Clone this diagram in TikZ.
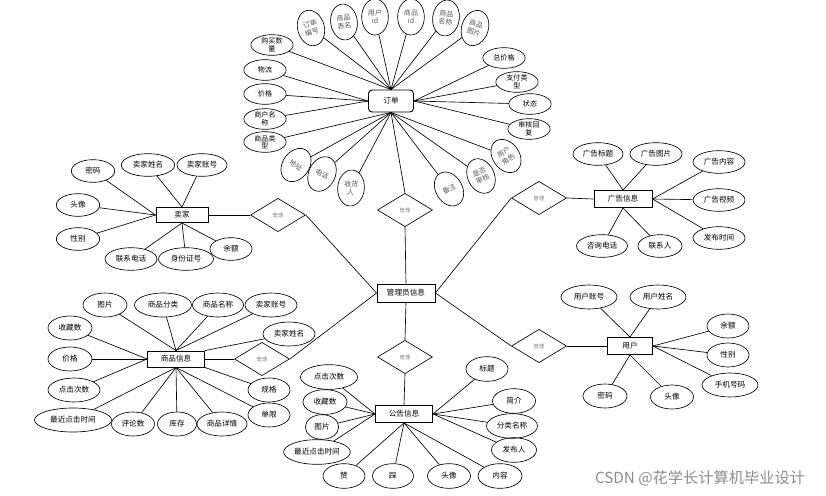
\documentclass[tikz,border=0pt]{standalone}
\usepackage{fontspec}
\setmainfont{Noto Sans CJK SC}
\usetikzlibrary{shapes.geometric}

\begin{document}
\begin{tikzpicture}[x=0.03cm, y=-0.03cm, line width=0.55pt,
  font=\fontsize{6.5}{7}\selectfont,
  attr/.style={draw, ellipse, minimum width=#1, minimum height=0.68cm, inner sep=0pt, align=center},
  attr/.default=1.3cm,
  tilt/.style={draw, ellipse, minimum width=0.8cm, minimum height=1.08cm, inner sep=0pt,
    align=center, text=black!65, font=\fontsize{6}{6.8}\selectfont},
  ent/.style={draw, line width=0.8pt, minimum height=0.5cm, inner sep=1pt},
  rel/.style={draw, diamond, minimum width=1.65cm, minimum height=1cm, inner sep=0pt,
    text=black!50, font=\fontsize{4.5}{5}\selectfont}]
  \useasboundingbox (0,0) rectangle (826,495);

  % entidades y relaciones
  \node[ent] (admin) at (406,293) [minimum width=1.74cm, minimum height=0.54cm] {管理员信息};
  \node[ent, rounded corners=3pt] (dingdan) at (391,101) [minimum width=1.35cm, minimum height=0.66cm] {订单};
  \node[ent] (maijia) at (182,215) [minimum width=1.56cm, minimum height=0.45cm] {卖家};
  \node[ent] (guanggao) at (623,199) [minimum width=1.74cm, minimum height=0.51cm] {广告信息};
  \node[ent] (yonghu) at (630,346) [minimum width=1.35cm, minimum height=0.51cm] {用户};
  \node[ent] (shangpin) at (176,359) [minimum width=1.71cm, minimum height=0.48cm] {商品信息};
  \node[ent] (gonggao) at (404,414) [minimum width=1.71cm, minimum height=0.51cm] {公告信息};

  \node[rel] (gl1) at (405,210) {管理};
  \node[rel] (gl2) at (278,215) {管理};
  \node[rel] (gl3) at (539,198) {管理};
  \node[rel] (gl4) at (539,346) {管理};
  \node[rel] (gl5) at (262,359) {管理};
  \node[rel] (gl6) at (405,357) {管理};

  \draw (dingdan.south) -- (gl1.north);
  \draw (gl1.south) -- (admin.north);
  \draw (maijia.east) -- (gl2.west);
  \draw (gl2.east) -- (admin.west);
  \draw (admin.east) -- (gl3.west);
  \draw (gl3.east) -- (guanggao.west);
  \draw (admin.east) -- (gl4.west);
  \draw (gl4.east) -- (yonghu.west);
  \draw (admin.west) -- (gl5.east);
  \draw (gl5.west) -- (shangpin.east);
  \draw (admin.south) -- (gl6.north);
  \draw (gl6.south) -- (gonggao.north);

  % atributos del pedido
  \foreach \x/\y/\t/\a [count=\i] in {272/45/{购买数\\量}/north, 265/70/物流/west,
      265/94/价格/west, 265/119/{商户名\\称}/west, 265/142/{商品类\\型}/south,
      504/58/总价格/east, 517/82/{支付类\\型}/east, 530/104/状态/east, 529/129/{审核回\\复}/east}
    {\node[attr=1.27cm, minimum height=0.62cm, font=\fontsize{6}{6.5}\selectfont] (dd\i) at (\x,\y) {\t};
     \draw (dd\i) -- (dingdan.\a);}
  \foreach \x/\y/\r/\t/\a [count=\i] in {311/28/15/{订单\\编号}/north, 344/22/8/{商品\\表名}/north,
      375/17/0/{用户\\id}/north, 411/17/0/{商品\\id}/north, 446/18/-8/{商品\\名称}/north,
      475/28/-18/{商品\\图片}/north, 296/165/-35/地址/south, 322/174/-25/电话/south,
      351/188/-5/{收货\\人}/south, 449/189/30/备注/south, 481/176/25/{是否\\审核}/south,
      506/156/35/{用户\\角色}/south}
    {\node[tilt, rotate=\r] (dt\i) at (\x,\y) {\t};
     \draw (dt\i) -- (dingdan.\a);}

  % atributos del vendedor
  \foreach \x/\y/\w/\t/\a [count=\i] in {93/171/1.3/密码/west, 148/165/1.6/卖家姓名/north,
      202/165/1.5/卖家账号/north, 78/205/1.3/头像/west, 78/239/1.3/性别/west,
      131/259/1.56/联系电话/south, 186/259/1.65/身份证号/south, 231/249/1.26/余额/south}
    {\node[attr=\w cm] (mj\i) at (\x,\y) {\t};
     \draw (mj\i) -- (maijia.\a);}

  % atributos del anuncio
  \foreach \x/\y/\w/\t/\a [count=\i] in {598/154/1.5/广告标题/north, 656/154/1.56/广告图片/north,
      719/162/1.56/广告内容/east, 719/200/1.56/广告视频/east, 719/238/1.56/发布时间/east,
      660/246/1.32/联系人/south, 602/246/1.53/咨询电话/south}
    {\node[attr=\w cm] (gg\i) at (\x,\y) {\t};
     \draw (gg\i) -- (guanggao.\a);}

  % atributos del usuario
  \foreach \x/\y/\w/\t/\a [count=\i] in {589/297/1.68/用户账号/north, 658/297/1.68/用户姓名/north,
      728/326/1.26/余额/east, 728/355/1.26/性别/east, 730/385/1.68/手机号码/east,
      672/397/1.29/头像/south, 605/396/1.32/密码/south}
    {\node[attr=\w cm, minimum height=0.72cm] (yh\i) at (\x,\y) {\t};
     \draw (yh\i) -- (yonghu.\a);}

  % atributos del producto
  \foreach \x/\y/\w/\t/\a [count=\i] in {105/305/1.32/图片/north, 163/305/1.71/商品分类/north,
      218/305/1.53/商品名称/north, 271/305/1.56/卖家账号/north, 289/334/1.56/卖家姓名/north east,
      70/328/1.32/收藏数/west, 70/359/1.32/价格/west, 74/390/1.56/点击次数/west,
      73/420/2.31/最近点击时间/south, 133/424/1.29/评论数/south, 177/424/1.17/库存/south,
      222/424/1.5/商品详情/south, 269/415/1.26/单限/south, 269/390/1.26/规格/south east}
    {\node[attr=\w cm, minimum height=0.72cm] (sp\i) at (\x,\y) {\t};
     \draw (sp\i) -- (shangpin.\a);}

  % atributos del aviso
  \foreach \x/\y/\w/\t/\a [count=\i] in {329/377/1.71/点击次数/west, 325/402/1.32/收藏数/west,
      322/427/1.0/图片/west, 317/452/2.0/最近点击时间/west, 344/476/1.26/赞/south,
      393/476/1.23/踩/south, 449/476/1.29/头像/south, 500/476/1.32/内容/south,
      514/450/1.35/发布人/east, 512/426/1.53/分类名称/east, 514/401/1.29/简介/east,
      487/369/1.26/标题/east}
    {\node[attr=\w cm, minimum height=0.74cm] (gn\i) at (\x,\y) {\t};
     \draw (gn\i) -- (gonggao.\a);}

  \node[text=black!45, font=\fontsize{13}{14}\selectfont] (csdn) at (700,478) {CSDN @花学长计算机毕业设计};
\end{tikzpicture}
\end{document}
